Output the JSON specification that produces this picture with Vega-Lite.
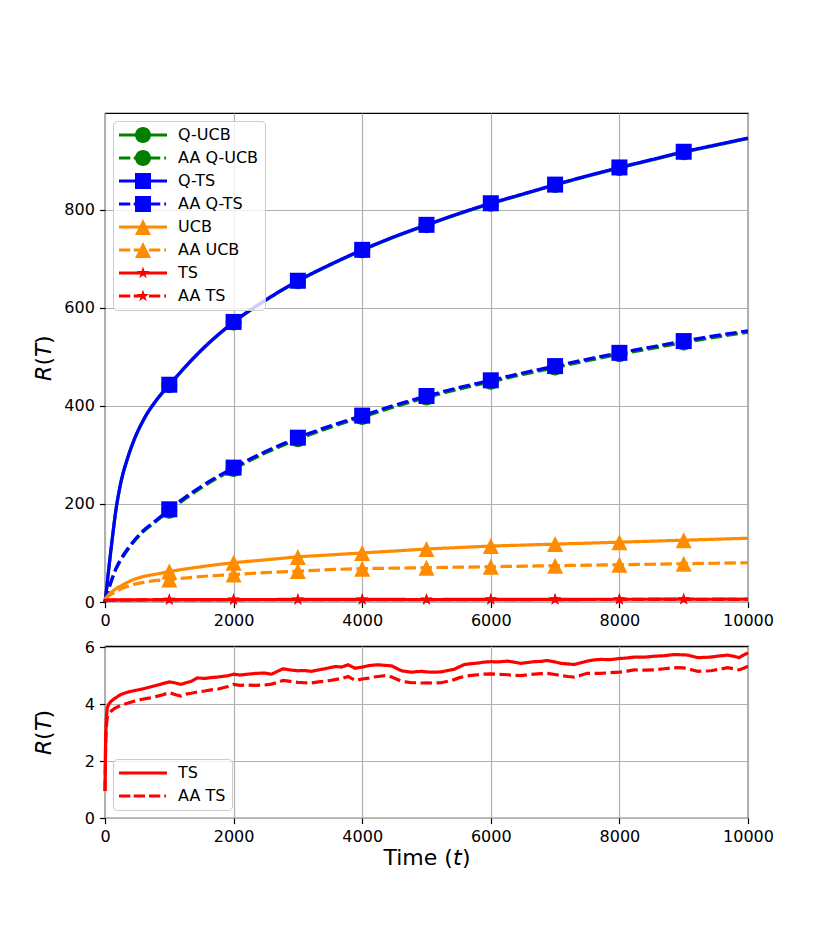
{
  "$schema": "https://vega.github.io/schema/vega-lite/v6.json",
  "padding": {"left": 31, "top": 112, "right": 55, "bottom": 59},
  "background": "white",
  "datasets": {
    "main": [
      {"t": 0, "Q-UCB": 0, "AA Q-UCB": 0, "Q-TS": 0, "AA Q-TS": 0, "UCB": 6, "AA UCB": 6},
      {"t": 20, "Q-UCB": 21, "AA Q-UCB": 10, "Q-TS": 22, "AA Q-TS": 11, "UCB": 9, "AA UCB": 8},
      {"t": 50, "Q-UCB": 57, "AA Q-UCB": 23, "Q-TS": 58, "AA Q-TS": 24, "UCB": 14, "AA UCB": 12},
      {"t": 100, "Q-UCB": 114, "AA Q-UCB": 43, "Q-TS": 115, "AA Q-TS": 44, "UCB": 20, "AA UCB": 16},
      {"t": 170, "Q-UCB": 187, "AA Q-UCB": 67, "Q-TS": 188, "AA Q-TS": 68, "UCB": 27, "AA UCB": 21},
      {"t": 250, "Q-UCB": 245, "AA Q-UCB": 86, "Q-TS": 246, "AA Q-TS": 88, "UCB": 33, "AA UCB": 27},
      {"t": 350, "Q-UCB": 292, "AA Q-UCB": 106, "Q-TS": 293, "AA Q-TS": 108, "UCB": 40, "AA UCB": 32},
      {"t": 450, "Q-UCB": 329, "AA Q-UCB": 123, "Q-TS": 330, "AA Q-TS": 125, "UCB": 46, "AA UCB": 36},
      {"t": 600, "Q-UCB": 371, "AA Q-UCB": 144, "Q-TS": 372, "AA Q-TS": 146, "UCB": 52, "AA UCB": 40},
      {"t": 800, "Q-UCB": 411, "AA Q-UCB": 165, "Q-TS": 412, "AA Q-TS": 167, "UCB": 57, "AA UCB": 44},
      {"t": 1000, "Q-UCB": 442, "AA Q-UCB": 186, "Q-TS": 443, "AA Q-TS": 189, "UCB": 62, "AA UCB": 46},
      {"t": 1500, "Q-UCB": 513, "AA Q-UCB": 233, "Q-TS": 514, "AA Q-TS": 236, "UCB": 72, "AA UCB": 52},
      {"t": 2000, "Q-UCB": 570, "AA Q-UCB": 271, "Q-TS": 571, "AA Q-TS": 274, "UCB": 80, "AA UCB": 56},
      {"t": 2500, "Q-UCB": 615, "AA Q-UCB": 304, "Q-TS": 616, "AA Q-TS": 307, "UCB": 86, "AA UCB": 60},
      {"t": 3000, "Q-UCB": 654, "AA Q-UCB": 332, "Q-TS": 655, "AA Q-TS": 335, "UCB": 92, "AA UCB": 63},
      {"t": 3500, "Q-UCB": 687, "AA Q-UCB": 356, "Q-TS": 688, "AA Q-TS": 359, "UCB": 96, "AA UCB": 66},
      {"t": 4000, "Q-UCB": 717, "AA Q-UCB": 377, "Q-TS": 718, "AA Q-TS": 380, "UCB": 100, "AA UCB": 68},
      {"t": 4500, "Q-UCB": 744, "AA Q-UCB": 398, "Q-TS": 745, "AA Q-TS": 401, "UCB": 104, "AA UCB": 69},
      {"t": 5000, "Q-UCB": 768, "AA Q-UCB": 417, "Q-TS": 769, "AA Q-TS": 420, "UCB": 108, "AA UCB": 70},
      {"t": 5500, "Q-UCB": 791, "AA Q-UCB": 434, "Q-TS": 792, "AA Q-TS": 437, "UCB": 111, "AA UCB": 71},
      {"t": 6000, "Q-UCB": 812, "AA Q-UCB": 449, "Q-TS": 813, "AA Q-TS": 452, "UCB": 114, "AA UCB": 72},
      {"t": 6500, "Q-UCB": 831, "AA Q-UCB": 464, "Q-TS": 832, "AA Q-TS": 467, "UCB": 116, "AA UCB": 73},
      {"t": 7000, "Q-UCB": 850, "AA Q-UCB": 478, "Q-TS": 851, "AA Q-TS": 481, "UCB": 118, "AA UCB": 74},
      {"t": 7500, "Q-UCB": 868, "AA Q-UCB": 492, "Q-TS": 869, "AA Q-TS": 495, "UCB": 120, "AA UCB": 75},
      {"t": 8000, "Q-UCB": 885, "AA Q-UCB": 505, "Q-TS": 886, "AA Q-TS": 508, "UCB": 122, "AA UCB": 76},
      {"t": 8500, "Q-UCB": 901, "AA Q-UCB": 517, "Q-TS": 902, "AA Q-TS": 520, "UCB": 124, "AA UCB": 77},
      {"t": 9000, "Q-UCB": 917, "AA Q-UCB": 529, "Q-TS": 918, "AA Q-TS": 532, "UCB": 126, "AA UCB": 78},
      {"t": 9500, "Q-UCB": 931, "AA Q-UCB": 540, "Q-TS": 932, "AA Q-TS": 543, "UCB": 128, "AA UCB": 79},
      {"t": 10000, "Q-UCB": 945, "AA Q-UCB": 550, "Q-TS": 946, "AA Q-TS": 553, "UCB": 130, "AA UCB": 80}
    ],
    "ts": [
      {"t": 0, "TS": 0.95, "AA TS": 0.95},
      {"t": 10, "TS": 2.8, "AA TS": 2.6},
      {"t": 20, "TS": 3.5, "AA TS": 3.2},
      {"t": 35, "TS": 3.87, "AA TS": 3.55},
      {"t": 60, "TS": 4.0, "AA TS": 3.66},
      {"t": 95, "TS": 4.1, "AA TS": 3.75},
      {"t": 150, "TS": 4.2, "AA TS": 3.85},
      {"t": 250, "TS": 4.34, "AA TS": 3.96},
      {"t": 350, "TS": 4.42, "AA TS": 4.03},
      {"t": 450, "TS": 4.47, "AA TS": 4.1},
      {"t": 560, "TS": 4.52, "AA TS": 4.16},
      {"t": 700, "TS": 4.6, "AA TS": 4.22},
      {"t": 820, "TS": 4.67, "AA TS": 4.28},
      {"t": 900, "TS": 4.72, "AA TS": 4.33},
      {"t": 1000, "TS": 4.78, "AA TS": 4.4},
      {"t": 1100, "TS": 4.74, "AA TS": 4.33},
      {"t": 1180, "TS": 4.69, "AA TS": 4.28},
      {"t": 1260, "TS": 4.75, "AA TS": 4.35},
      {"t": 1340, "TS": 4.8, "AA TS": 4.38},
      {"t": 1440, "TS": 4.92, "AA TS": 4.43},
      {"t": 1550, "TS": 4.9, "AA TS": 4.46},
      {"t": 1650, "TS": 4.93, "AA TS": 4.5},
      {"t": 1750, "TS": 4.95, "AA TS": 4.52},
      {"t": 1850, "TS": 4.98, "AA TS": 4.58},
      {"t": 1920, "TS": 5.0, "AA TS": 4.62},
      {"t": 2000, "TS": 5.05, "AA TS": 4.69},
      {"t": 2100, "TS": 5.02, "AA TS": 4.66},
      {"t": 2220, "TS": 5.05, "AA TS": 4.67},
      {"t": 2350, "TS": 5.08, "AA TS": 4.66},
      {"t": 2480, "TS": 5.09, "AA TS": 4.67},
      {"t": 2590, "TS": 5.05, "AA TS": 4.7},
      {"t": 2680, "TS": 5.15, "AA TS": 4.76},
      {"t": 2770, "TS": 5.24, "AA TS": 4.83},
      {"t": 2880, "TS": 5.2, "AA TS": 4.8},
      {"t": 3000, "TS": 5.17, "AA TS": 4.76},
      {"t": 3100, "TS": 5.18, "AA TS": 4.75},
      {"t": 3210, "TS": 5.15, "AA TS": 4.74},
      {"t": 3320, "TS": 5.2, "AA TS": 4.78},
      {"t": 3420, "TS": 5.24, "AA TS": 4.8},
      {"t": 3500, "TS": 5.28, "AA TS": 4.83},
      {"t": 3580, "TS": 5.32, "AA TS": 4.86},
      {"t": 3680, "TS": 5.3, "AA TS": 4.9},
      {"t": 3780, "TS": 5.38, "AA TS": 4.97},
      {"t": 3890, "TS": 5.26, "AA TS": 4.83},
      {"t": 4000, "TS": 5.3, "AA TS": 4.88},
      {"t": 4100, "TS": 5.35, "AA TS": 4.91},
      {"t": 4180, "TS": 5.37, "AA TS": 4.95},
      {"t": 4250, "TS": 5.38, "AA TS": 4.97},
      {"t": 4360, "TS": 5.36, "AA TS": 5.0},
      {"t": 4460, "TS": 5.34, "AA TS": 4.95},
      {"t": 4540, "TS": 5.25, "AA TS": 4.87},
      {"t": 4610, "TS": 5.17, "AA TS": 4.8},
      {"t": 4700, "TS": 5.14, "AA TS": 4.77},
      {"t": 4770, "TS": 5.12, "AA TS": 4.75},
      {"t": 4850, "TS": 5.14, "AA TS": 4.75},
      {"t": 4925, "TS": 5.15, "AA TS": 4.74},
      {"t": 5000, "TS": 5.13, "AA TS": 4.75},
      {"t": 5100, "TS": 5.12, "AA TS": 4.74},
      {"t": 5225, "TS": 5.13, "AA TS": 4.75},
      {"t": 5330, "TS": 5.18, "AA TS": 4.8},
      {"t": 5430, "TS": 5.22, "AA TS": 4.86},
      {"t": 5500, "TS": 5.3, "AA TS": 4.92},
      {"t": 5590, "TS": 5.39, "AA TS": 4.97},
      {"t": 5700, "TS": 5.42, "AA TS": 5.01},
      {"t": 5800, "TS": 5.44, "AA TS": 5.03},
      {"t": 5880, "TS": 5.47, "AA TS": 5.05},
      {"t": 6000, "TS": 5.49, "AA TS": 5.06},
      {"t": 6100, "TS": 5.48, "AA TS": 5.05},
      {"t": 6260, "TS": 5.51, "AA TS": 5.03},
      {"t": 6370, "TS": 5.47, "AA TS": 5.01},
      {"t": 6470, "TS": 5.43, "AA TS": 5.0},
      {"t": 6570, "TS": 5.46, "AA TS": 5.03},
      {"t": 6680, "TS": 5.49, "AA TS": 5.05},
      {"t": 6780, "TS": 5.5, "AA TS": 5.07},
      {"t": 6880, "TS": 5.53, "AA TS": 5.08},
      {"t": 7000, "TS": 5.48, "AA TS": 5.04},
      {"t": 7090, "TS": 5.43, "AA TS": 5.0},
      {"t": 7200, "TS": 5.41, "AA TS": 4.97},
      {"t": 7300, "TS": 5.39, "AA TS": 4.95},
      {"t": 7400, "TS": 5.45, "AA TS": 5.01},
      {"t": 7500, "TS": 5.51, "AA TS": 5.08},
      {"t": 7600, "TS": 5.55, "AA TS": 5.08},
      {"t": 7710, "TS": 5.57, "AA TS": 5.08},
      {"t": 7850, "TS": 5.56, "AA TS": 5.1},
      {"t": 8000, "TS": 5.6, "AA TS": 5.12},
      {"t": 8120, "TS": 5.62, "AA TS": 5.16},
      {"t": 8230, "TS": 5.65, "AA TS": 5.2},
      {"t": 8400, "TS": 5.65, "AA TS": 5.19},
      {"t": 8540, "TS": 5.68, "AA TS": 5.2},
      {"t": 8700, "TS": 5.7, "AA TS": 5.24},
      {"t": 8850, "TS": 5.74, "AA TS": 5.28},
      {"t": 9000, "TS": 5.73, "AA TS": 5.27},
      {"t": 9060, "TS": 5.72, "AA TS": 5.24},
      {"t": 9150, "TS": 5.67, "AA TS": 5.19},
      {"t": 9220, "TS": 5.63, "AA TS": 5.15},
      {"t": 9320, "TS": 5.64, "AA TS": 5.16},
      {"t": 9420, "TS": 5.65, "AA TS": 5.17},
      {"t": 9550, "TS": 5.69, "AA TS": 5.22},
      {"t": 9680, "TS": 5.72, "AA TS": 5.28},
      {"t": 9780, "TS": 5.68, "AA TS": 5.24},
      {"t": 9860, "TS": 5.63, "AA TS": 5.2},
      {"t": 9930, "TS": 5.72, "AA TS": 5.26},
      {"t": 10000, "TS": 5.8, "AA TS": 5.33}
    ]
  },
  "vconcat": [
    {
      "width": 643,
      "height": 489,
      "encoding": {
        "x": {
          "field": "t", "type": "quantitative",
          "scale": {"domain": [0, 10000], "nice": false},
          "axis": {"values": [0, 2000, 4000, 6000, 8000, 10000], "format": "d", "title": null}
        },
        "y": {
          "field": "v", "type": "quantitative",
          "scale": {"domain": [0, 997], "nice": false},
          "axis": {"values": [0, 200, 400, 600, 800], "format": "d", "title": "𝘙(𝘛)", "titleX": -50}
        }
      },
      "layer": [
        {
          "data": {"name": "main"},
          "transform": [{"fold": ["Q-UCB", "AA Q-UCB", "Q-TS", "AA Q-TS", "UCB", "AA UCB"], "as": ["s", "v"]}],
          "mark": {"type": "line", "strokeWidth": 3.2, "interpolate": "monotone"},
          "encoding": {
            "color": {"field": "s", "type": "nominal", "legend": null,
              "scale": {"domain": ["Q-UCB", "AA Q-UCB", "Q-TS", "AA Q-TS", "UCB", "AA UCB", "TS", "AA TS"],
                        "range": ["#008000", "#008000", "#0000ff", "#0000ff", "#ff8c00", "#ff8c00", "#ff0000", "#ff0000"]}},
            "strokeDash": {"field": "s", "type": "nominal", "legend": null,
              "scale": {"domain": ["Q-UCB", "AA Q-UCB", "Q-TS", "AA Q-TS", "UCB", "AA UCB", "TS", "AA TS"],
                        "range": [[1, 0], [11.5, 4.5], [1, 0], [11.5, 4.5], [1, 0], [11.5, 4.5], [1, 0], [11.5, 4.5]]}}
          }
        },
        {
          "data": {"name": "ts"},
          "transform": [{"fold": ["TS", "AA TS"], "as": ["s", "v"]}],
          "mark": {"type": "line", "strokeWidth": 3.2},
          "encoding": {
            "color": {"field": "s", "type": "nominal", "legend": null,
              "scale": {"domain": ["Q-UCB", "AA Q-UCB", "Q-TS", "AA Q-TS", "UCB", "AA UCB", "TS", "AA TS"],
                        "range": ["#008000", "#008000", "#0000ff", "#0000ff", "#ff8c00", "#ff8c00", "#ff0000", "#ff0000"]}},
            "strokeDash": {"field": "s", "type": "nominal", "legend": null,
              "scale": {"domain": ["Q-UCB", "AA Q-UCB", "Q-TS", "AA Q-TS", "UCB", "AA UCB", "TS", "AA TS"],
                        "range": [[1, 0], [11.5, 4.5], [1, 0], [11.5, 4.5], [1, 0], [11.5, 4.5], [1, 0], [11.5, 4.5]]}}
          }
        },
        {
          "data": {"name": "main"},
          "transform": [
            {"fold": ["Q-UCB", "AA Q-UCB", "Q-TS", "AA Q-TS", "UCB", "AA UCB"], "as": ["s", "v"]},
            {"filter": "datum.t > 0 && datum.t < 10000 && datum.t % 1000 == 0"}
          ],
          "mark": {"type": "point", "filled": true, "opacity": 1, "size": 256, "strokeWidth": 0},
          "encoding": {
            "color": {"field": "s", "type": "nominal", "legend": null,
              "scale": {"domain": ["Q-UCB", "AA Q-UCB", "Q-TS", "AA Q-TS", "UCB", "AA UCB", "TS", "AA TS"],
                        "range": ["#008000", "#008000", "#0000ff", "#0000ff", "#ff8c00", "#ff8c00", "#ff0000", "#ff0000"]}},
            "shape": {"field": "s", "type": "nominal", "legend": null,
              "scale": {"domain": ["Q-UCB", "AA Q-UCB", "Q-TS", "AA Q-TS", "UCB", "AA UCB", "TS", "AA TS"],
                        "range": [
                          "M1,0A1,1,0,1,1,-1,0A1,1,0,1,1,1,0Z",
                          "M1,0A1,1,0,1,1,-1,0A1,1,0,1,1,1,0Z",
                          "M-1,-1H1V1H-1Z",
                          "M-1,-1H1V1H-1Z",
                          "M0,-1L1,1L-1,1Z",
                          "M0,-1L1,1L-1,1Z",
                          "M0,-0.8L0.18,-0.247L0.761,-0.247L0.291,0.094L0.47,0.647L0,0.306L-0.47,0.647L-0.291,0.094L-0.761,-0.247L-0.18,-0.247Z",
                          "M0,-0.8L0.18,-0.247L0.761,-0.247L0.291,0.094L0.47,0.647L0,0.306L-0.47,0.647L-0.291,0.094L-0.761,-0.247L-0.18,-0.247Z"
                        ]}}
          }
        },
        {
          "data": {"name": "ts"},
          "transform": [
            {"fold": ["TS", "AA TS"], "as": ["s", "v"]},
            {"filter": "datum.t > 0 && datum.t < 10000 && datum.t % 1000 == 0"}
          ],
          "mark": {"type": "point", "filled": true, "opacity": 1, "size": 256, "strokeWidth": 0},
          "encoding": {
            "color": {"field": "s", "type": "nominal", "legend": null,
              "scale": {"domain": ["Q-UCB", "AA Q-UCB", "Q-TS", "AA Q-TS", "UCB", "AA UCB", "TS", "AA TS"],
                        "range": ["#008000", "#008000", "#0000ff", "#0000ff", "#ff8c00", "#ff8c00", "#ff0000", "#ff0000"]}},
            "shape": {"field": "s", "type": "nominal", "legend": null,
              "scale": {"domain": ["Q-UCB", "AA Q-UCB", "Q-TS", "AA Q-TS", "UCB", "AA UCB", "TS", "AA TS"],
                        "range": [
                          "M1,0A1,1,0,1,1,-1,0A1,1,0,1,1,1,0Z",
                          "M1,0A1,1,0,1,1,-1,0A1,1,0,1,1,1,0Z",
                          "M-1,-1H1V1H-1Z",
                          "M-1,-1H1V1H-1Z",
                          "M0,-1L1,1L-1,1Z",
                          "M0,-1L1,1L-1,1Z",
                          "M0,-0.8L0.18,-0.247L0.761,-0.247L0.291,0.094L0.47,0.647L0,0.306L-0.47,0.647L-0.291,0.094L-0.761,-0.247L-0.18,-0.247Z",
                          "M0,-0.8L0.18,-0.247L0.761,-0.247L0.291,0.094L0.47,0.647L0,0.306L-0.47,0.647L-0.291,0.094L-0.761,-0.247L-0.18,-0.247Z"
                        ]}}
          }
        },
        {
          "data": {"name": "main"},
          "transform": [
            {"fold": ["Q-UCB", "AA Q-UCB", "Q-TS", "AA Q-TS", "UCB", "AA UCB"], "as": ["s", "v"]},
            {"filter": "false"}
          ],
          "mark": {"type": "point", "filled": true, "opacity": 1, "size": 256, "strokeWidth": 0},
          "encoding": {
            "color": {"field": "s", "type": "nominal",
              "legend": {"title": null, "orient": "top-left", "offset": 8, "padding": 6, "rowPadding": 7,
                         "symbolSize": 256, "symbolOffset": 16, "labelOffset": 27, "labelFontSize": 16,
                         "labelColor": "black", "labelLimit": 300, "fillColor": "rgba(255,255,255,0.8)",
                         "strokeColor": "#cccccc", "cornerRadius": 4, "symbolStrokeWidth": 0, "symbolOpacity": 1},
              "scale": {"domain": ["Q-UCB", "AA Q-UCB", "Q-TS", "AA Q-TS", "UCB", "AA UCB", "TS", "AA TS"],
                        "range": ["#008000", "#008000", "#0000ff", "#0000ff", "#ff8c00", "#ff8c00", "#ff0000", "#ff0000"]}},
            "shape": {"field": "s", "type": "nominal",
              "legend": {"title": null, "orient": "top-left", "offset": 8, "padding": 6, "rowPadding": 7,
                         "symbolSize": 256, "symbolOffset": 16, "labelOffset": 27, "labelFontSize": 16,
                         "labelColor": "black", "labelLimit": 300, "fillColor": "rgba(255,255,255,0.8)",
                         "strokeColor": "#cccccc", "cornerRadius": 4, "symbolStrokeWidth": 0, "symbolOpacity": 1},
              "scale": {"domain": ["Q-UCB", "AA Q-UCB", "Q-TS", "AA Q-TS", "UCB", "AA UCB", "TS", "AA TS"],
                        "range": [
                          "M-3,-0.2H3V0.2H-3ZM1,0A1,1,0,1,1,-1,0A1,1,0,1,1,1,0Z",
                          "M-3,-0.2H-1.59V0.2H-3ZM-1.16,-0.2H0.25V0.2H-1.16ZM0.75,-0.2H2.16V0.2H0.75ZM2.66,-0.2H2.88V0.2H2.66ZM1,0A1,1,0,1,1,-1,0A1,1,0,1,1,1,0Z",
                          "M-3,-0.2H3V0.2H-3ZM-1,-1H1V1H-1Z",
                          "M-3,-0.2H-1.59V0.2H-3ZM-1.16,-0.2H0.25V0.2H-1.16ZM0.75,-0.2H2.16V0.2H0.75ZM2.66,-0.2H2.88V0.2H2.66ZM-1,-1H1V1H-1Z",
                          "M-3,-0.2H3V0.2H-3ZM0,-1L1,1L-1,1Z",
                          "M-3,-0.2H-1.59V0.2H-3ZM-1.16,-0.2H0.25V0.2H-1.16ZM0.75,-0.2H2.16V0.2H0.75ZM2.66,-0.2H2.88V0.2H2.66ZM0,-1L1,1L-1,1Z",
                          "M-3,-0.2H3V0.2H-3ZM0,-0.8L0.18,-0.247L0.761,-0.247L0.291,0.094L0.47,0.647L0,0.306L-0.47,0.647L-0.291,0.094L-0.761,-0.247L-0.18,-0.247Z",
                          "M-3,-0.2H-1.59V0.2H-3ZM-1.16,-0.2H0.25V0.2H-1.16ZM0.75,-0.2H2.16V0.2H0.75ZM2.66,-0.2H2.88V0.2H2.66ZM0,-0.8L0.18,-0.247L0.761,-0.247L0.291,0.094L0.47,0.647L0,0.306L-0.47,0.647L-0.291,0.094L-0.761,-0.247L-0.18,-0.247Z"
                        ]}}
          }
        }
      ],
      "resolve": {"scale": {"color": "independent", "shape": "independent", "strokeDash": "independent"}}
    },
    {
      "width": 643,
      "height": 172,
      "data": {"name": "ts"},
      "transform": [{"fold": ["TS", "AA TS"], "as": ["s", "v"]}],
      "encoding": {
        "x": {
          "field": "t", "type": "quantitative",
          "scale": {"domain": [0, 10000], "nice": false},
          "axis": {"values": [0, 2000, 4000, 6000, 8000, 10000], "format": "d", "title": "Time (𝘵)", "titlePadding": 3}
        },
        "y": {
          "field": "v", "type": "quantitative",
          "scale": {"domain": [0, 6.04], "nice": false},
          "axis": {"values": [0, 2, 4, 6], "format": "d", "title": "𝘙(𝘛)", "titleX": -50}
        }
      },
      "layer": [
        {
          "mark": {"type": "line", "strokeWidth": 3.2},
          "encoding": {
            "color": {"field": "s", "type": "nominal", "legend": null,
              "scale": {"domain": ["TS", "AA TS"], "range": ["#ff0000", "#ff0000"]}},
            "strokeDash": {"field": "s", "type": "nominal", "legend": null,
              "scale": {"domain": ["TS", "AA TS"], "range": [[1, 0], [11.5, 4.5]]}}
          }
        },
        {
          "transform": [{"filter": "false"}],
          "mark": {"type": "point", "filled": true, "opacity": 1, "size": 256, "strokeWidth": 0},
          "encoding": {
            "color": {"field": "s", "type": "nominal",
              "legend": {"title": null, "orient": "bottom-left", "offset": 8, "padding": 6, "rowPadding": 7,
                         "symbolSize": 256, "symbolOffset": 16, "labelOffset": 27, "labelFontSize": 16,
                         "labelColor": "black", "labelLimit": 300, "fillColor": "rgba(255,255,255,0.8)",
                         "strokeColor": "#cccccc", "cornerRadius": 4, "symbolStrokeWidth": 0, "symbolOpacity": 1},
              "scale": {"domain": ["TS", "AA TS"], "range": ["#ff0000", "#ff0000"]}},
            "shape": {"field": "s", "type": "nominal",
              "legend": {"title": null, "orient": "bottom-left", "offset": 8, "padding": 6, "rowPadding": 7,
                         "symbolSize": 256, "symbolOffset": 16, "labelOffset": 27, "labelFontSize": 16,
                         "labelColor": "black", "labelLimit": 300, "fillColor": "rgba(255,255,255,0.8)",
                         "strokeColor": "#cccccc", "cornerRadius": 4, "symbolStrokeWidth": 0, "symbolOpacity": 1},
              "scale": {"domain": ["TS", "AA TS"],
                        "range": [
                          "M-3,-0.2H3V0.2H-3Z",
                          "M-3,-0.2H-1.59V0.2H-3ZM-1.16,-0.2H0.25V0.2H-1.16ZM0.75,-0.2H2.16V0.2H0.75ZM2.66,-0.2H2.88V0.2H2.66Z"
                        ]}}
          }
        }
      ],
      "resolve": {"scale": {"color": "independent", "shape": "independent", "strokeDash": "independent"}}
    }
  ],
  "spacing": 44,
  "bounds": "flush",
  "config": {
    "font": "DejaVu Sans",
    "view": {"stroke": "black", "strokeWidth": 1.2},
    "axis": {
      "grid": true, "gridColor": "#b0b0b0", "gridWidth": 1.2,
      "domain": false,
      "tickColor": "black", "tickSize": 5.6, "tickWidth": 1.2,
      "labelFontSize": 16, "labelColor": "black", "labelPadding": 5, "labelFlush": false,
      "titleFontSize": 22, "titleFontWeight": "normal", "titleColor": "black"
    }
  }
}
